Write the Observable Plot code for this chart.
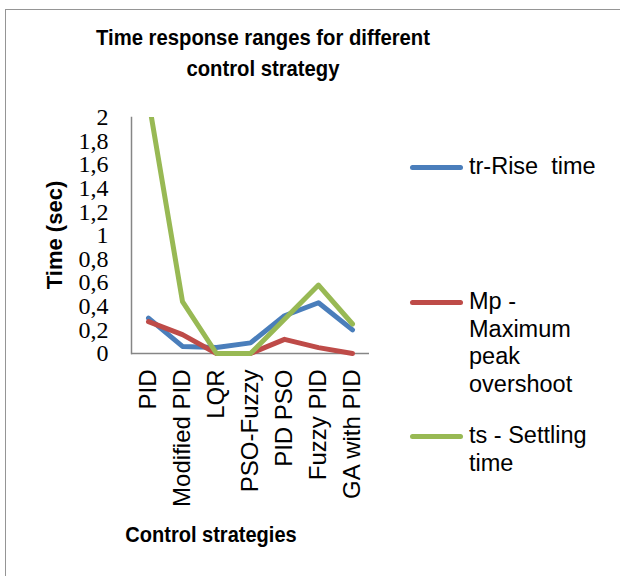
<!DOCTYPE html>
<html>
<head>
<meta charset="utf-8">
<script src="https://cdn.jsdelivr.net/npm/d3@7"></script>
<script src="https://cdn.jsdelivr.net/npm/@observablehq/plot@0.6"></script>
<style>
  html, body { margin: 0; padding: 0; background: #fff; overflow: hidden; }
  #wrap { position: relative; width: 620px; height: 576px; overflow: hidden; font-family: "Liberation Sans", Arial, sans-serif; }
  #border { position: absolute; left: 5px; top: 9px; width: 700px; height: 700px; border: 1.5px solid #959595; box-sizing: border-box; }
  #chart { position: absolute; left: 0; top: 0; }
  .title { position: absolute; left: 13px; width: 500px; top: 22px; text-align: center; font-weight: bold; font-size: 22.5px; line-height: 31px; color: #000; transform: scaleX(0.9); }
  .ylab { position: absolute; left: 55px; top: 235px; transform: translate(-50%, -50%) rotate(-90deg); font-weight: bold; font-size: 22px; white-space: nowrap; color: #000; }
  .xlab { position: absolute; left: 211px; top: 535px; transform: translate(-50%, -50%) scaleX(0.91); font-weight: bold; font-size: 22px; white-space: nowrap; color: #000; }
  .legend { position: absolute; left: 410px; top: 0; width: 210px; }
  .item { position: absolute; left: 0; display: flex; align-items: flex-start; font-size: 23.5px; line-height: 27.7px; color: #000; }
  .sw { width: 53px; height: 5px; border-radius: 3px; margin-top: 11.5px; margin-right: 6px; flex: none; }
</style>
</head>
<body>
<div id="wrap">
  <div id="border"></div>
  <div id="chart"></div>
  <div class="title">Time response ranges for different<br>control strategy</div>
  <div class="ylab">Time (sec)</div>
  <div class="xlab">Control strategies</div>
  <div class="legend" id="legend"></div>
</div>
<script>
const categories = ["PID", "Modified PID", "LQR", "PSO-Fuzzy", "PID PSO", "Fuzzy PID", "GA with PID"];
const riseTime   = [0.30, 0.06, 0.05, 0.09, 0.32, 0.43, 0.20];
const overshoot  = [0.27, 0.16, 0.00, 0.00, 0.12, 0.05, 0.00];
const settling   = [2.15, 0.44, 0.00, 0.00, 0.29, 0.58, 0.25];
const seriesNames = ["tr-Rise  time", "Mp - Maximum peak overshoot", "ts - Settling time"];
const legendLines = [["tr-Rise\u00a0\u00a0time"], ["Mp -", "Maximum", "peak", "overshoot"], ["ts - Settling", "time"]];
const seriesColors = ["#4A7EBB", "#BE4B48", "#98B954"];
const yTicks = [0, 0.2, 0.4, 0.6, 0.8, 1, 1.2, 1.4, 1.6, 1.8, 2];

const seriesValues = [riseTime, overshoot, settling];
const rows = seriesNames.flatMap((s, si) =>
  categories.map((c, ci) => ({series: s, category: c, value: seriesValues[si][ci]})));

const fmt = d => String(+(+d).toFixed(1)).replace(".", ",");

const chart = Plot.plot({
  width: 620,
  height: 576,
  marginLeft: 131,
  marginRight: 251,
  marginTop: 117,
  marginBottom: 223,
  style: {background: "transparent", color: "#000"},
  x: {type: "point", domain: categories, padding: 0.5},
  y: {domain: [0, 2]},
  color: {domain: seriesNames, range: seriesColors},
  marks: [
    Plot.axisY({ticks: yTicks, tickSize: 0, tickPadding: 23, tickFormat: fmt, fontSize: 24, fontFamily: "Liberation Serif", label: null}),
    Plot.axisX({tickSize: 0, tickPadding: 16, tickRotate: -90, fontSize: 24, fontFamily: "Liberation Sans", label: null}),
    Plot.ruleY([0], {stroke: "#868686", strokeWidth: 1.5}),
    Plot.frame({anchor: "left", stroke: "#868686", strokeWidth: 1.5}),
    Plot.line(rows, {x: "category", y: "value", z: "series", stroke: "series", strokeWidth: 5,
      strokeLinecap: "round", strokeLinejoin: "round", clip: true})
  ]
});
document.getElementById("chart").appendChild(chart);
// let the clip only cut the top edge (strokes at zero sit on the axis)
chart.querySelectorAll("clipPath rect").forEach(r => {
  const h = +r.getAttribute("height");
  r.setAttribute("x", 0); r.setAttribute("width", 620);
  r.setAttribute("height", h + 20);
});

const legendY = [167, 302, 436];
const legend = document.getElementById("legend");
seriesNames.forEach((s, i) => {
  const item = document.createElement("div");
  item.className = "item";
  item.style.top = (legendY[i] - 14) + "px";
  const sw = document.createElement("div");
  sw.className = "sw";
  sw.style.background = seriesColors[i];
  const tx = document.createElement("div");
  tx.innerHTML = legendLines[i].join("<br>");
  item.appendChild(sw); item.appendChild(tx);
  legend.appendChild(item);
});
</script>
</body>
</html>
